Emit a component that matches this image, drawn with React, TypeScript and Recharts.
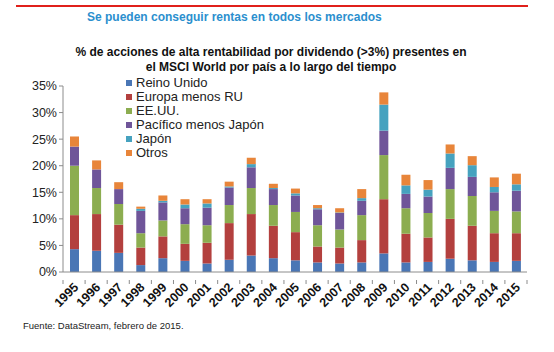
import { BarChart, Bar, XAxis, YAxis } from "recharts";

const years = ["1995", "1996", "1997", "1998", "1999", "2000", "2001", "2002", "2003", "2004", "2005", "2006", "2007", "2008", "2009", "2010", "2011", "2012", "2013", "2014", "2015"];

const reinoUnido = [4.3, 4.0, 3.6, 1.3, 2.6, 2.1, 1.6, 2.3, 3.1, 2.6, 2.2, 1.8, 1.6, 1.8, 3.5, 1.8, 1.9, 2.5, 2.2, 1.9, 2.1];
const europaMenosRU = [6.4, 6.9, 5.3, 3.3, 4.1, 3.2, 3.9, 6.9, 7.8, 6.1, 5.3, 3.0, 3.0, 4.2, 10.2, 5.4, 4.6, 7.5, 6.5, 5.4, 5.2];
const eeuu = [9.3, 4.9, 3.9, 2.7, 3.0, 3.7, 3.3, 3.4, 4.9, 3.9, 3.8, 4.0, 3.4, 4.7, 8.3, 4.8, 4.6, 5.6, 5.6, 4.2, 4.1];
const pacificoMenosJapon = [3.6, 3.5, 2.8, 4.2, 3.4, 3.0, 3.3, 3.3, 3.9, 3.0, 3.1, 3.0, 3.1, 2.7, 4.6, 2.7, 3.1, 4.0, 3.6, 3.5, 3.9];
const japon = [0, 0, 0, 0.4, 0.3, 0.7, 0.8, 0.2, 0.6, 0.2, 0.4, 0.2, 0.1, 0.5, 4.9, 1.6, 1.3, 2.7, 2.2, 1.0, 1.2];
const otros = [1.9, 1.7, 1.3, 0.4, 1.0, 1.0, 0.8, 0.9, 1.2, 0.8, 0.9, 0.6, 0.8, 1.7, 2.3, 2.0, 1.8, 1.7, 1.7, 1.8, 2.0];

const yTicks = [0, 5, 10, 15, 20, 25, 30, 35];

const series = [
  { key: "uk", name: "Reino Unido", color: "#4a76b5", values: reinoUnido },
  { key: "eu", name: "Europa menos RU", color: "#b3403e", values: europaMenosRU },
  { key: "us", name: "EE.UU.", color: "#8cad50", values: eeuu },
  { key: "pac", name: "Pacífico menos Japón", color: "#6f5599", values: pacificoMenosJapon },
  { key: "jp", name: "Japón", color: "#46a2bf", values: japon },
  { key: "ot", name: "Otros", color: "#e8853a", values: otros },
];

const data = years.map((year, i) => {
  const row: Record<string, string | number> = { year };
  series.forEach((s) => {
    row[s.key] = s.values[i];
  });
  return row;
});

const font = "'Liberation Sans', Arial, sans-serif";

function YearTick(props: any) {
  const { x, y, payload, index } = props;
  const half = payload && payload.offset ? payload.offset : 11;
  return (
    <g transform={`translate(${x},${y})`}>
      <line x1={half} y1={0} x2={half} y2={4} stroke='#8c8c8c' />
      {index === 0 && <line x1={-half} y1={0} x2={-half} y2={4} stroke='#8c8c8c' />}
      <text x={5} y={8} textAnchor='end' transform='rotate(-45 5 8)' fontFamily={font} fontSize={12.5} fontWeight='bold' fill='#111'>
        {payload.value}
      </text>
    </g>
  );
}

export default function App() {
  return (
    <div style={{ position: "relative", width: 554, height: 352, background: "#fff", overflow: "hidden" }}>
      <style>{"body{margin:0}"}</style>
      <div style={{ position: "absolute", left: 0, top: 0 }}>
        <BarChart width={554} height={352} data={data} margin={{ top: 86, right: 27, bottom: 40, left: 0 }} barSize={9}>
          <XAxis
            dataKey='year'
            interval={0}
            height={40}
            tickLine={false}
            axisLine={{ stroke: "#8c8c8c" }}
            tick={<YearTick />}
          />
          <YAxis
            domain={[0, 35]}
            ticks={yTicks}
            width={63}
            tickSize={4}
            tickLine={{ stroke: "#8c8c8c" }}
            axisLine={{ stroke: "#8c8c8c" }}
            tickFormatter={(v: number) => `${v}%`}
            tick={{ fontFamily: font, fontSize: 12.5, fill: "#222" }}
          />
          {series.map((s) => (
            <Bar key={s.key} dataKey={s.key} name={s.name} stackId='a' fill={s.color} isAnimationActive={false} />
          ))}
        </BarChart>
      </div>
      {/* red rule across the top of the slide */}
      <div style={{ position: "absolute", left: 16, top: 5, width: 512, height: 2, background: "#e0201b", zIndex: 3 }} />
      <div style={{ position: "absolute", left: 87, top: 10, fontFamily: font, fontSize: 12, fontWeight: "bold", color: "#2b8fce", zIndex: 2 }}>
        Se pueden conseguir rentas en todos los mercados
      </div>
      <div
        style={{
          position: "absolute",
          left: 0,
          width: 542,
          top: 45,
          textAlign: "center",
          fontFamily: font,
          fontSize: 12,
          fontWeight: "bold",
          color: "#111",
          lineHeight: "15px",
          zIndex: 2,
        }}
      >
        % de acciones de alta rentabilidad por dividendo (&gt;3%) presentes en
        <br />
        el MSCI World por país a lo largo del tiempo
      </div>
      <div style={{ position: "absolute", left: 126, top: 76, fontFamily: font, fontSize: 13, color: "#222", lineHeight: "14px", zIndex: 2 }}>
        {series.map((s) => (
          <div key={s.key} style={{ display: "flex", alignItems: "center", height: 14 }}>
            <div style={{ width: 6, height: 6, backgroundColor: s.color, marginRight: 4 }} />
            <span>{s.name}</span>
          </div>
        ))}
      </div>
      <div style={{ position: "absolute", left: 23, top: 320, fontFamily: font, fontSize: 9.5, color: "#222", zIndex: 2 }}>
        Fuente: DataStream, febrero de 2015.
      </div>
    </div>
  );
}
